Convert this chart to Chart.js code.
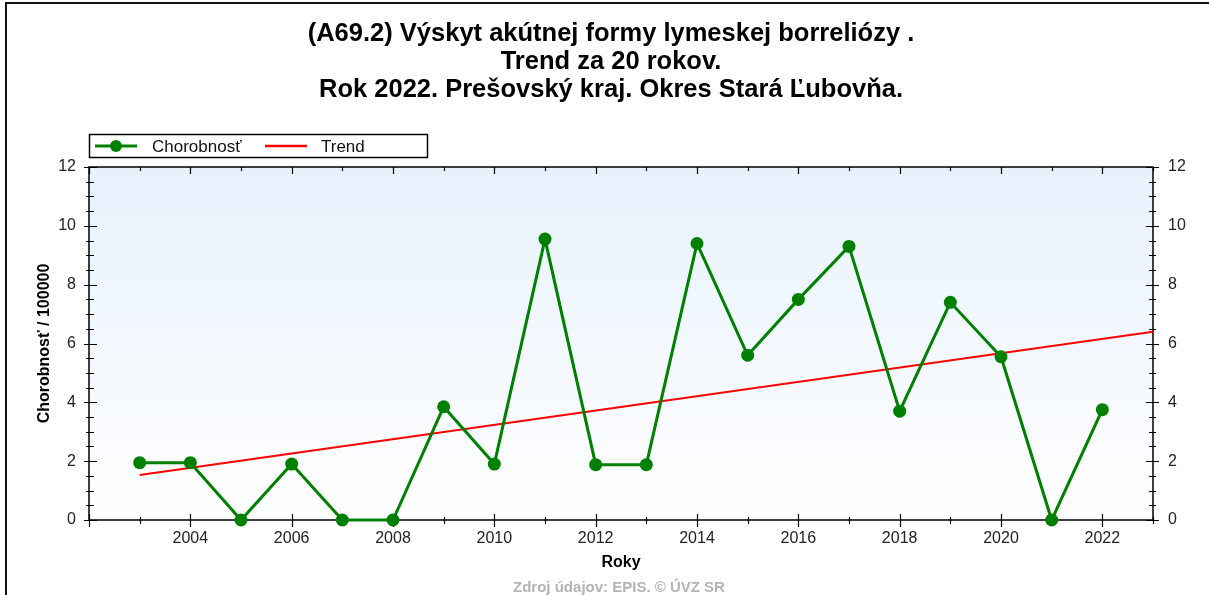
<!DOCTYPE html>
<html>
<head>
<meta charset="utf-8">
<title>Lymeská borrelióza - Stará Ľubovňa</title>
<script src="https://cdn.jsdelivr.net/npm/chart.js@4.4.1/dist/chart.umd.min.js"></script>
<style>
    html, body { margin: 0; padding: 0; background: #fff; }
    canvas { display: block; }
</style>
</head>
<body>
<canvas id="chart-lyme" width="1209" height="595"></canvas>
<script>
// hodnoty odčítané z grafu
var roky = [2003, 2004, 2005, 2006, 2007, 2008, 2009, 2010, 2011, 2012,
            2013, 2014, 2015, 2016, 2017, 2018, 2019, 2020, 2021, 2022];
var chorobnost = [1.95, 1.95, 0, 1.9, 0, 0, 3.85, 1.9, 9.55, 1.88,
                  1.88, 9.4, 5.6, 7.5, 9.3, 3.7, 7.4, 5.55, 0, 3.75];
var trendRoky = [2003, 2023];
var trendHodnoty = [1.53, 6.4];

var titulok = [
    '(A69.2) Výskyt akútnej formy lymeskej borreliózy .',
    'Trend za 20 rokov.',
    'Rok 2022. Prešovský kraj. Okres Stará Ľubovňa.'
];
var nazovY = 'Chorobnosť / 100000';
var nazovX = 'Roky';
var zdroj = 'Zdroj údajov: EPIS. © ÚVZ SR';
var popisky = ['Chorobnosť', 'Trend'];

var FONT = '"Liberation Sans", Arial, sans-serif';

function body(xs, ys) {
    var out = [];
    for (var i = 0; i < xs.length; i++) out.push({x: xs[i], y: ys[i]});
    return out;
}

var ramPlugin = {
    id: 'ram',
    beforeDraw: function(chart) {
        var ctx = chart.ctx, a = chart.chartArea;
        ctx.save();
        ctx.fillStyle = '#fff';
        ctx.fillRect(0, 0, chart.width, chart.height);
        var g = ctx.createLinearGradient(0, a.top, 0, a.bottom);
        g.addColorStop(0, '#e7f1fc');
        g.addColorStop(1, '#ffffff');
        ctx.fillStyle = g;
        ctx.fillRect(a.left, a.top, a.right - a.left, a.bottom - a.top);
        // vonkajsi ramik
        ctx.fillStyle = '#111';
        ctx.fillRect(5, 2, chart.width, 2);
        ctx.fillRect(5, 2, 2, chart.height);
        ctx.restore();
    },
    beforeDatasetsDraw: function(chart) {
        var ctx = chart.ctx, a = chart.chartArea;
        var sx = chart.scales.x, sy = chart.scales.y;
        ctx.save();
        ctx.strokeStyle = '#000';
        ctx.lineWidth = 1.5;
        ctx.strokeRect(a.left, a.top, a.right - a.left, a.bottom - a.top);
        ctx.lineWidth = 1.2;
        ctx.beginPath();
        sx.ticks.forEach(function(t) {
            var px = Math.round(sx.getPixelForValue(t.value)) + 0.5;
            var major = t.value % 2 === 0;
            ctx.moveTo(px, a.bottom - (major ? 6 : 3));
            ctx.lineTo(px, a.bottom + (major ? 7 : 4));
            ctx.moveTo(px, a.top);
            ctx.lineTo(px, a.top + (major ? 7 : 4));
        });
        sy.ticks.forEach(function(t) {
            var py = Math.round(sy.getPixelForValue(t.value)) + 0.5;
            var major = t.value % 2 === 0;
            ctx.moveTo(a.left - (major ? 5 : 3), py);
            ctx.lineTo(a.left + (major ? 8 : 5), py);
            ctx.moveTo(a.right - (major ? 7 : 4), py);
            ctx.lineTo(a.right + (major ? 6 : 3), py);
        });
        ctx.stroke();
        ctx.restore();
    },
    afterDraw: function(chart) {
        var ctx = chart.ctx;
        ctx.save();
        // titulok
        ctx.fillStyle = '#000';
        ctx.textAlign = 'center';
        ctx.textBaseline = 'alphabetic';
        ctx.font = 'bold 25.5px ' + FONT;
        var baseY = [41, 69, 97];
        titulok.forEach(function(t, i) { ctx.fillText(t, 611, baseY[i]); });
        // zdroj
        ctx.fillStyle = '#b4b4b4';
        ctx.font = 'bold 15px ' + FONT;
        ctx.fillText(zdroj, 619, 592);
        // legenda
        ctx.strokeStyle = '#000';
        ctx.lineWidth = 1.5;
        ctx.strokeRect(89.5, 134.5, 338, 23);
        var ly = 146;
        ctx.lineWidth = 3;
        ctx.strokeStyle = '#008000';
        ctx.beginPath(); ctx.moveTo(95, ly); ctx.lineTo(137, ly); ctx.stroke();
        ctx.fillStyle = '#008000';
        ctx.beginPath(); ctx.arc(116, ly, 6, 0, Math.PI * 2); ctx.fill();
        ctx.strokeStyle = '#ff0000';
        ctx.lineWidth = 2.5;
        ctx.beginPath(); ctx.moveTo(265, ly); ctx.lineTo(307, ly); ctx.stroke();
        ctx.fillStyle = '#111';
        ctx.textAlign = 'left';
        ctx.textBaseline = 'middle';
        ctx.font = '17px ' + FONT;
        ctx.fillText(popisky[0], 152, ly + 1);
        ctx.fillText(popisky[1], 321, ly + 1);
        ctx.restore();
    }
};

var config = {
    type: 'scatter',
    data: {
        datasets: [
            {
                label: popisky[0],
                data: body(roky, chorobnost),
                showLine: true,
                borderColor: '#008000',
                backgroundColor: '#008000',
                borderWidth: 3,
                pointRadius: 6.5,
                pointHoverRadius: 6.5,
                pointBorderWidth: 0,
                clip: false,
                order: 1
            },
            {
                label: popisky[1],
                data: body(trendRoky, trendHodnoty),
                showLine: true,
                borderColor: '#ff0000',
                backgroundColor: '#ff0000',
                borderWidth: 2,
                pointRadius: 0,
                order: 2
            }
        ]
    },
    options: {
        responsive: false,
        animation: false,
        events: [],
        layout: { padding: { top: 167, left: 0, right: 0, bottom: 0 } },
        plugins: {
            legend: { display: false },
            title: { display: false },
            tooltip: { enabled: false }
        },
        scales: {
            x: {
                type: 'linear',
                min: 2002,
                max: 2023,
                afterFit: function(s) { s.height = 75; },
                grid: { display: false, drawTicks: false },
                border: { display: false },
                ticks: {
                    stepSize: 1,
                    autoSkip: false,
                    maxRotation: 0,
                    padding: 9,
                    color: '#222',
                    font: { family: FONT, size: 16 },
                    callback: function(v) { return (v % 2 === 0 && v > 2002) ? String(v) : ''; }
                },
                title: {
                    display: true,
                    text: nazovX,
                    color: '#000',
                    font: { family: FONT, size: 16, weight: 'bold' },
                    padding: { top: 0, bottom: 23 }
                }
            },
            y: {
                type: 'linear',
                position: 'left',
                min: 0,
                max: 12,
                afterFit: function(s) { s.width = 89; },
                grid: { display: false, drawTicks: false },
                border: { display: false },
                ticks: {
                    stepSize: 0.5,
                    autoSkip: false,
                    padding: 13,
                    color: '#222',
                    font: { family: FONT, size: 16 },
                    callback: function(v) { return v % 2 === 0 ? String(v) : ''; }
                },
                title: {
                    display: true,
                    text: nazovY,
                    color: '#000',
                    font: { family: FONT, size: 16, weight: 'bold' },
                    padding: { top: 35, bottom: 0 }
                }
            },
            y1: {
                type: 'linear',
                position: 'right',
                min: 0,
                max: 12,
                afterFit: function(s) { s.width = 56; },
                grid: { display: false, drawTicks: false },
                border: { display: false },
                ticks: {
                    stepSize: 0.5,
                    autoSkip: false,
                    padding: 15,
                    color: '#222',
                    font: { family: FONT, size: 16 },
                    callback: function(v) { return v % 2 === 0 ? String(v) : ''; }
                }
            }
        }
    },
    plugins: [ramPlugin]
};

var graf = new Chart(document.getElementById('chart-lyme'), config);
</script>
</body>
</html>
